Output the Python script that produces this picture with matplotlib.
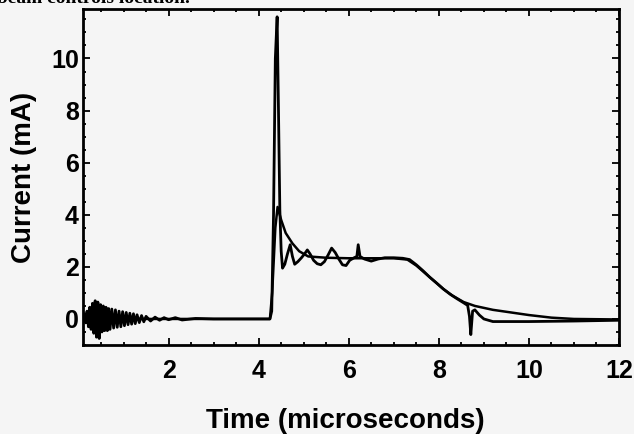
import matplotlib
matplotlib.use("Agg")
import matplotlib.pyplot as plt
from matplotlib.ticker import MultipleLocator

# ---- data ----
meas_t = [0.10, 0.13, 0.16, 0.19, 0.22, 0.25, 0.28, 0.31, 0.34, 0.37, 0.40, 0.43,
          0.46, 0.49, 0.52, 0.55, 0.58, 0.61, 0.64, 0.67, 0.70, 0.74, 0.78, 0.82,
          0.86, 0.90, 0.94, 0.98, 1.02, 1.06, 1.10, 1.14, 1.18, 1.22, 1.26, 1.30,
          1.35, 1.40, 1.45, 1.50, 1.60, 1.70, 1.80, 1.90, 2.00, 2.15, 2.30, 2.60,
          3.00, 3.50, 4.00, 4.25, 4.29, 4.33, 4.37, 4.41, 4.44, 4.47, 4.50, 4.53,
          4.58, 4.64, 4.70, 4.75, 4.80, 4.87, 4.95, 5.02, 5.08, 5.14, 5.22, 5.30,
          5.38, 5.46, 5.54, 5.62, 5.70, 5.78, 5.86, 5.94, 6.02, 6.12, 6.18, 6.21,
          6.25, 6.35, 6.50, 6.65, 6.80, 7.00, 7.20, 7.35, 7.50, 7.65, 7.80, 7.95,
          8.10, 8.25, 8.40, 8.55, 8.64, 8.68, 8.71, 8.75, 8.80, 8.90, 9.00, 9.20,
          10.00, 11.00, 12.00]
meas_i = [0.00, 0.20, -0.15, 0.30, -0.30, 0.45, -0.40, 0.60, -0.55, 0.70, -0.70, 0.65,
          -0.75, 0.55, -0.50, 0.50, -0.45, 0.45, -0.45, 0.40, -0.40, 0.38, -0.35, 0.35,
          -0.32, 0.30, -0.30, 0.28, -0.26, 0.25, -0.22, 0.22, -0.20, 0.20, -0.18, 0.16,
          -0.14, 0.13, -0.11, 0.10, -0.08, 0.07, -0.05, 0.05, -0.03, 0.05, -0.04, 0.02,
          0.00, 0.00, 0.00, 0.00, 0.30, 4.00, 10.00, 11.60, 8.00, 4.20, 2.60, 1.95,
          2.10, 2.50, 2.85, 2.40, 2.10, 2.20, 2.35, 2.50, 2.65, 2.50, 2.25, 2.12,
          2.08, 2.20, 2.45, 2.72, 2.55, 2.30, 2.08, 2.05, 2.25, 2.35, 2.40, 2.85,
          2.40, 2.30, 2.22, 2.30, 2.35, 2.35, 2.33, 2.28, 2.08, 1.85, 1.60, 1.38,
          1.15, 0.95, 0.78, 0.62, 0.52, 0.10, -0.60, 0.30, 0.35, 0.15, 0.00, -0.10,
          -0.10, -0.08, -0.05]

sim_t = [0.10, 1.00, 2.00, 3.00, 4.00, 4.25, 4.30, 4.37, 4.42, 4.50, 4.60, 4.75,
         4.90, 5.10, 5.50, 6.00, 7.00, 7.30, 7.50, 7.70, 7.90, 8.10, 8.30, 8.55,
         8.80, 9.20, 9.60, 10.00, 10.50, 11.00, 12.00]
sim_i = [0.00, 0.00, 0.00, 0.00, 0.00, 0.00, 1.00, 3.50, 4.30, 3.80, 3.30, 2.90,
         2.60, 2.40, 2.35, 2.33, 2.33, 2.28, 2.05, 1.75, 1.45, 1.15, 0.90, 0.65,
         0.50, 0.35, 0.25, 0.15, 0.05, 0.00, -0.02]

x_ticks = [2, 4, 6, 8, 10, 12]
y_ticks = [0, 2, 4, 6, 8, 10]

BG = "#f5f5f5"
plt.rcParams["font.family"] = ["Liberation Sans", "DejaVu Sans"]

fig = plt.figure(figsize=(6.34, 4.34), dpi=100, facecolor=BG)
ax = fig.add_axes([83/634, 1-345/434, 536/634, 336/434], facecolor=BG)

ax.plot(sim_t, sim_i, color="black", lw=1.8, solid_joinstyle="round")
ax.plot(meas_t, meas_i, color="black", lw=2.0, solid_joinstyle="round")

ax.set_xlim(0.1, 12)
ax.set_ylim(-1.0, 11.9)
ax.set_xticks(x_ticks)
ax.set_yticks(y_ticks)
ax.xaxis.set_minor_locator(MultipleLocator(0.5))
ax.yaxis.set_minor_locator(MultipleLocator(0.5))
ax.tick_params(which="both", direction="in", top=True, right=True, width=1.3)
ax.tick_params(which="major", length=5)
ax.tick_params(which="minor", length=2.5)
ax.tick_params(axis="x", which="major", pad=10, labelsize=18)
ax.tick_params(axis="y", which="major", pad=3, labelsize=18)
for lab in ax.get_xticklabels() + ax.get_yticklabels():
    lab.set_fontweight("bold")
for s in ax.spines.values():
    s.set_linewidth(2.0)

ax.set_ylabel("Current (mA)", fontsize=20, fontweight="bold")
ax.set_xlabel("Time (microseconds)", fontsize=20, fontweight="bold")
ax.yaxis.set_label_coords(-0.11, 0.5)
ax.yaxis.label.set_va("center")
ax.xaxis.set_label_coords(0.49, -0.226)
ax.xaxis.label.set_va("center")

fig.text(-0.005, 1.004, "beam controls location.", fontsize=14, fontweight="bold",
         family=["Liberation Serif", "DejaVu Serif"], va="center", ha="left")

fig.savefig("out.png", dpi=100, facecolor=BG)
